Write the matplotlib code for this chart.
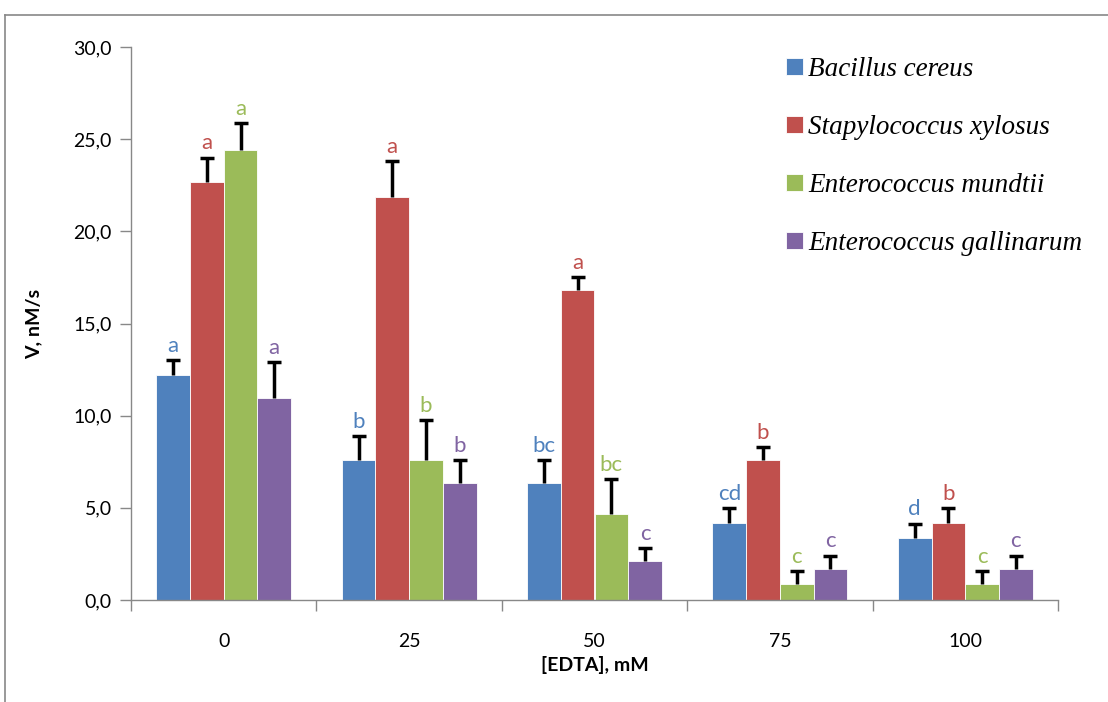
import matplotlib
matplotlib.use("Agg")
import matplotlib.pyplot as plt
import numpy as np
from matplotlib.lines import Line2D

categories = ["0", "25", "50", "75", "100"]
series = ["Bacillus cereus", "Stapylococcus xylosus", "Enterococcus mundtii", "Enterococcus gallinarum"]
colors = ["#4F81BD", "#C0504D", "#9BBB59", "#8064A2"]

bacillus = [12.2, 7.6, 6.35, 4.2, 3.35]
staphylo = [22.7, 21.85, 16.8, 7.6, 4.2]
mundtii = [24.4, 7.6, 4.65, 0.85, 0.85]
gallinarum = [10.95, 6.35, 2.1, 1.7, 1.7]

bacillus_err = [0.8, 1.3, 1.25, 0.8, 0.8]
staphylo_err = [1.3, 1.95, 0.7, 0.7, 0.8]
mundtii_err = [1.45, 2.15, 1.9, 0.72, 0.72]
gallinarum_err = [1.95, 1.25, 0.72, 0.7, 0.7]

bacillus_lbl = ["a", "b", "bc", "cd", "d"]
staphylo_lbl = ["a", "a", "a", "b", "b"]
mundtii_lbl = ["a", "b", "bc", "c", "c"]
gallinarum_lbl = ["a", "b", "c", "c", "c"]

y_ticks = [0, 5, 10, 15, 20, 25, 30]
y_tick_labels = ["0,0", "5,0", "10,0", "15,0", "20,0", "25,0", "30,0"]

values = [bacillus, staphylo, mundtii, gallinarum]
errs = [bacillus_err, staphylo_err, mundtii_err, gallinarum_err]
labels = [bacillus_lbl, staphylo_lbl, mundtii_lbl, gallinarum_lbl]

sans = ["Lato", "DejaVu Sans"]

fig = plt.figure(figsize=(11.08, 7.02), dpi=100)
ax = fig.add_axes([131/1108, 1-600/702, (1058-131)/1108, (600-47)/702])

x = np.arange(len(categories))
w = 1/5.5
handles = []
for i, (vals, er, lb, c) in enumerate(zip(values, errs, labels, colors)):
    pos = x + (i - 1.5) * w
    vals = np.array(vals)
    er = np.array(er)
    b = ax.bar(pos, vals, width=w, color=c, edgecolor="white", linewidth=0.6, label=series[i], zorder=2)
    handles.append(b)
    top = vals + er
    ax.vlines(pos, vals, top, color="black", linewidth=2.5, zorder=3)
    ax.plot(pos, top, linestyle="none", marker="_", markersize=10, markeredgewidth=2.5,
            color="black", zorder=3)
    for p, t_, t in zip(pos, top, lb):
        ax.annotate(t, (p, t_), xytext=(0, 6), textcoords="offset points",
                    ha="center", va="baseline", color=c, fontsize=16, family=sans)

ax.set_xlim(-0.5, len(categories) - 0.5)
ax.set_ylim(0, 30)
ax.set_yticks(y_ticks)
ax.set_yticklabels(y_tick_labels, fontsize=14, family=sans)
ax.set_xticks(np.arange(len(categories) + 1) - 0.5)
ax.set_xticklabels([])
ax.set_xticks(x, minor=True)
ax.set_xticklabels(categories, minor=True, fontsize=14, family=sans)
ax.tick_params(axis="x", which="minor", length=0, pad=24)
ax.tick_params(axis="x", which="major", length=8, color="#888888", width=1)
ax.tick_params(axis="y", length=8, color="#888888", width=1, pad=6)

for s in ["top", "right"]:
    ax.spines[s].set_visible(False)
for s in ["left", "bottom"]:
    ax.spines[s].set_color("#888888")
    ax.spines[s].set_linewidth(1)

ax.set_ylabel("V, nM/s", fontsize=14, fontweight="bold", family=sans, labelpad=22)
ax.set_xlabel("[EDTA], mM", fontsize=14, fontweight="bold", family=sans, labelpad=4)

leg = ax.legend(handles=handles, loc="upper left", bbox_to_anchor=(762/1108, 1-33/702),
                bbox_transform=fig.transFigure, frameon=False,
                prop={"family": ["Liberation Serif", "DejaVu Serif"], "style": "italic", "size": 19.5},
                handlelength=0.6, handleheight=0.6, handletextpad=0.2, labelspacing=1.21)

fig.add_artist(Line2D([5/1108, 5/1108], [0, 1-15/702], transform=fig.transFigure, color="#888888", lw=1.2))
fig.add_artist(Line2D([5/1108, 1], [1-15/702, 1-15/702], transform=fig.transFigure, color="#888888", lw=1.2))

fig.savefig("out.png", dpi=100)
